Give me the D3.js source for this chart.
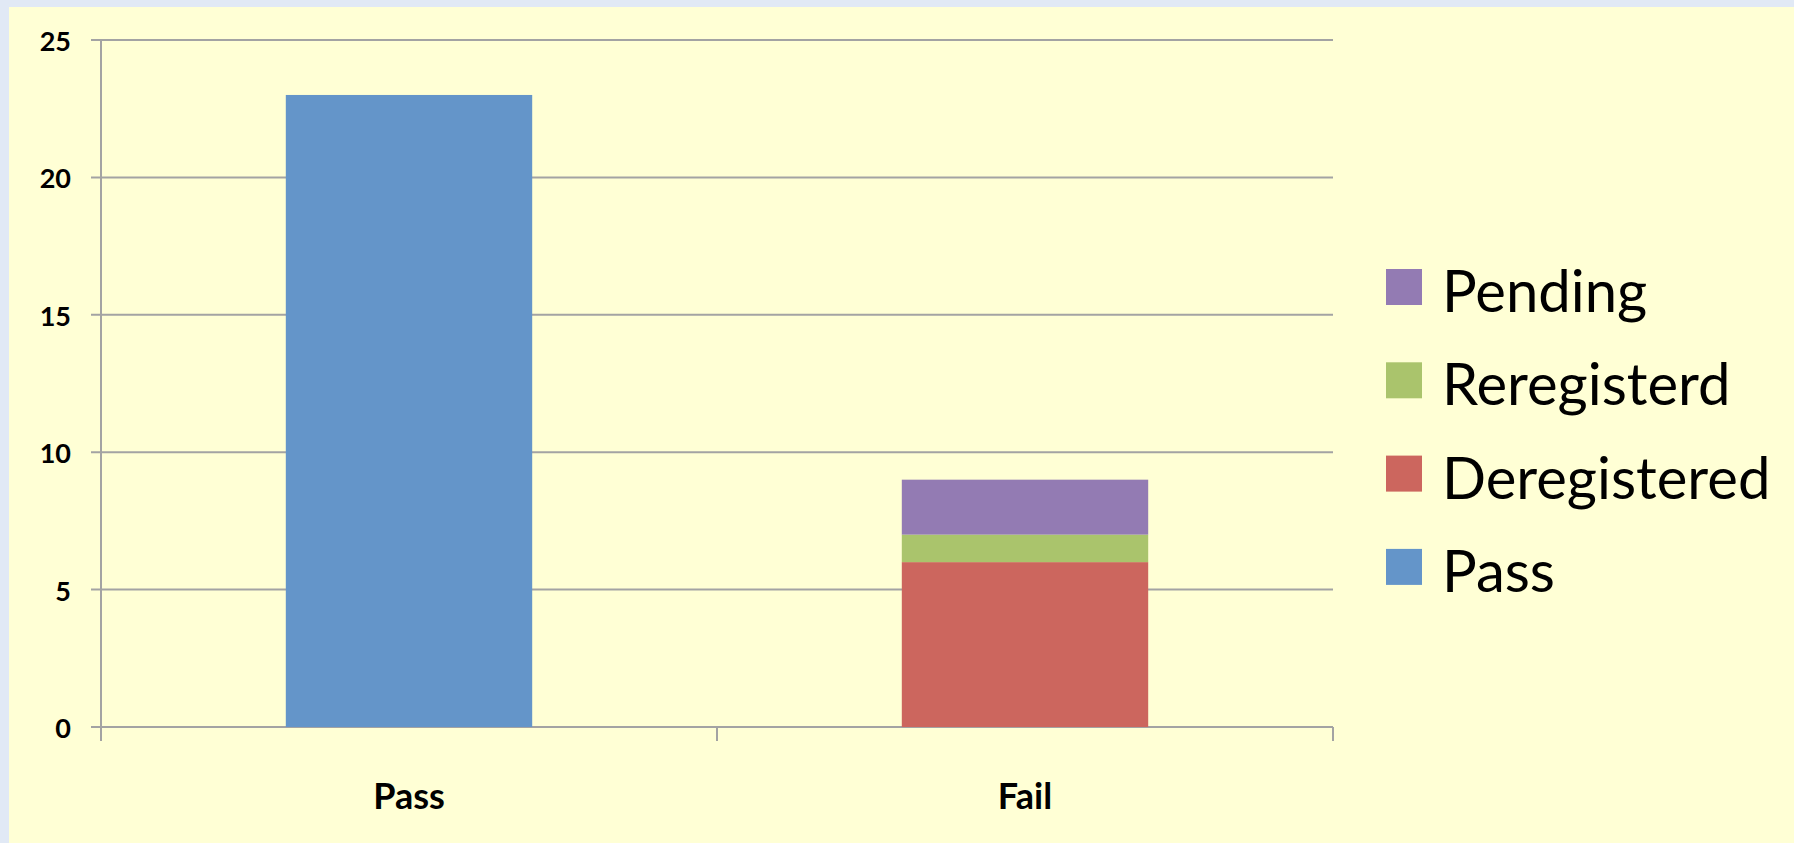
<!DOCTYPE html>
<html><head><meta charset="utf-8">
<script src="https://cdn.jsdelivr.net/npm/d3@7"></script>
<style>html,body{margin:0;padding:0;background:#e1e9f5;overflow:hidden}</style>
</head><body>
<svg id="c" width="1794" height="843"></svg>
<script>
const categories = ["Pass", "Fail"];
const seriesNames = ["Pass", "Deregistered", "Reregisterd", "Pending"];
const passValues = [23, 0];
const deregisteredValues = [0, 6];
const reregisterdValues = [0, 1];
const pendingValues = [0, 2];
const yTicks = [0, 5, 10, 15, 20, 25];
const colors = ["#6495c9", "#cc665e", "#aac46c", "#937bb3"];

const svg = d3.select("#c");
svg.append("rect").attr("x", 9).attr("y", 7).attr("width", 1785).attr("height", 836).attr("fill", "#ffffd5");

const x = d3.scaleBand().domain(categories).range([101, 1333]).paddingInner(0.6).paddingOuter(0.3);
const y = d3.scaleLinear().domain([0, 25]).range([727, 40]);
const grid = "#a3a3a3";

// gridlines
svg.append("g").selectAll("line").data(yTicks).join("line")
  .attr("x1", 91).attr("x2", 1333)
  .attr("y1", d => y(d)).attr("y2", d => y(d))
  .attr("stroke", grid).attr("stroke-width", 2);

// y axis line
svg.append("line").attr("x1", 101).attr("x2", 101).attr("y1", y(25)).attr("y2", 741)
  .attr("stroke", grid).attr("stroke-width", 2);
// x ticks at category boundaries
svg.append("g").selectAll("line").data(categories.map((c, i) => i).concat([categories.length])).join("line")
  .attr("x1", i => i < categories.length ? x(categories[i]) - x.step() * x.paddingOuter() : x.range()[1])
  .attr("x2", i => i < categories.length ? x(categories[i]) - x.step() * x.paddingOuter() : x.range()[1])
  .attr("y1", y(0)).attr("y2", 741)
  .attr("stroke", grid).attr("stroke-width", 2);

// stacked data
const table = categories.map((c, i) => ({
  cat: c, "Pass": passValues[i], "Deregistered": deregisteredValues[i],
  "Reregisterd": reregisterdValues[i], "Pending": pendingValues[i]
}));
const stack = d3.stack().keys(seriesNames)(table);
svg.append("g").selectAll("g").data(stack).join("g")
  .attr("fill", (d, i) => colors[i])
  .selectAll("rect").data(d => d).join("rect")
  .attr("x", d => x(d.data.cat))
  .attr("width", x.bandwidth())
  .attr("y", d => y(d[1]))
  .attr("height", d => y(d[0]) - y(d[1]));

// y labels
svg.append("g").selectAll("text").data(yTicks).join("text")
  .attr("x", 71).attr("y", d => y(d) + 11)
  .attr("text-anchor", "end")
  .attr("font-family", "Lato").attr("font-weight", "bold").attr("font-size", 27)
  .attr("fill", "#000").text(d => d);

// x labels
svg.append("g").selectAll("text").data(categories).join("text")
  .attr("x", d => x(d) + x.bandwidth() / 2).attr("y", 809)
  .attr("text-anchor", "middle")
  .attr("font-family", "Lato").attr("font-weight", "bold").attr("font-size", 36)
  .attr("fill", "#000").text(d => d);

// legend (reverse order)
const legendItems = seriesNames.map((n, i) => ({ name: n, color: colors[i] })).reverse();
const lg = svg.append("g").selectAll("g").data(legendItems).join("g")
  .attr("transform", (d, i) => `translate(1386, ${269 + i * 93.3})`);
lg.append("rect").attr("width", 36).attr("height", 36).attr("fill", d => d.color);
lg.append("text").attr("x", 56).attr("y", 43)
  .attr("font-family", "Lato").attr("font-size", 58).attr("fill", "#000")
  .text(d => d.name);
</script>
</body></html>
